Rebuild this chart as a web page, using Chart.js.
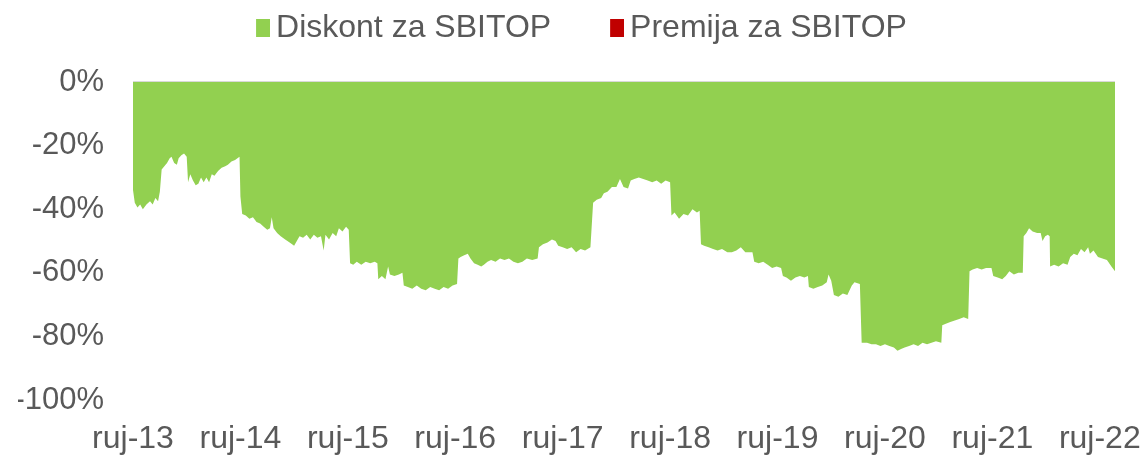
<!DOCTYPE html>
<html>
<head>
<meta charset="utf-8">
<script src="https://cdn.jsdelivr.net/npm/chart.js@4"></script>
<style>
  html, body { margin: 0; padding: 0; background: #ffffff; }
  #wrap { width: 1145px; height: 456px; }
</style>
</head>
<body>
<div id="wrap"><canvas id="c" width="1145" height="456"></canvas></div>
<script>
// x = months since September 2013 (ruj-13)
const months = [
  0, 0.2, 0.5, 0.8, 1.1, 1.5, 1.9, 2.2, 2.5, 2.8, 3.0, 3.2, 3.5, 3.8, 4.1, 4.3, 4.6, 4.9, 5.1, 5.4, 5.7, 6.0,
  6.15, 6.4, 6.7, 7.0, 7.3, 7.6, 7.9, 8.2, 8.5, 8.8, 9.1, 9.5, 9.9, 10.3, 10.6, 11.0, 11.4, 11.9,
  12.0, 12.2, 12.6, 13.0, 13.4, 13.8, 14.2, 14.6, 15.0, 15.3, 15.5, 15.7, 16.1, 16.5, 17.0, 17.5, 18.0,
  18.3, 18.6, 19.0, 19.4, 19.8, 20.2, 20.6, 21.0, 21.3, 21.5, 21.9, 22.3, 22.7, 23.0, 23.4, 23.8, 24.1,
  24.25, 24.6, 25.0, 25.5, 26.0, 26.5, 27.0, 27.3,
  27.4, 27.8, 28.2, 28.5, 28.7, 29.2, 29.7, 30.1,
  30.25, 30.7, 31.2, 31.7, 32.2, 32.7, 33.2, 33.7, 34.2, 34.7, 35.2, 35.7, 36.2,
  36.35, 36.6, 37.0, 37.4, 37.7, 38.1, 38.5, 38.9, 39.2, 39.6, 40.0, 40.5, 41.0, 41.5, 42.0, 42.5, 43.0, 43.5, 44.0, 44.6, 45.2,
  45.35, 45.8, 46.3, 46.8, 47.2, 47.5, 48.0, 48.5, 49.0, 49.5, 50.0, 50.5, 51.1,
  51.4, 51.8, 52.3, 52.6, 53.0, 53.5, 54.0, 54.4, 54.8, 55.3, 55.6, 56.0, 56.5, 57.0, 57.5, 58.0, 58.5, 59.0, 59.5, 60.0,
  60.15, 60.5, 61.0, 61.5, 62.0, 62.5, 63.0, 63.3,
  63.45, 63.8, 64.3, 64.8, 65.3, 65.8, 66.4, 66.9, 67.4, 67.9, 68.4, 69.2,
  69.4, 69.9, 70.4, 70.9, 71.4, 71.9, 72.4,
  72.6, 73.0, 73.5, 74.0, 74.5, 75.0, 75.4,
  75.5, 76.0, 76.5, 77.0, 77.5, 77.7, 78.0,
  78.3, 78.8, 79.3, 79.8, 80.3, 80.6, 81.2,
  81.4, 82.0, 82.5, 83.0, 83.5, 84.0, 84.5, 85.0, 85.4, 85.8, 86.2, 86.7, 87.2, 87.7, 88.2, 88.7, 89.2, 89.7, 90.3,
  90.4, 90.8, 91.3, 91.8, 92.3, 92.8, 93.3,
  93.45, 93.8, 94.3, 94.8, 95.3, 95.9, 96.1, 96.6, 97.1, 97.5, 97.9, 98.4, 98.9, 99.4,
  99.5, 99.8, 100.1, 100.5, 101.0, 101.4, 101.6, 101.9, 102.2, 102.4,
  102.45, 102.9, 103.4, 103.9, 104.4, 104.7, 105.1, 105.5, 105.9, 106.3, 106.7, 106.9, 107.3, 107.8, 108.3, 108.8, 109.3, 109.7
];
const discount = [
  -34, -38, -39.5, -38.5, -40, -38.5, -37.5, -38.5, -36.5, -37.5, -34.5, -27.5, -26.5, -25.5, -24, -23.5, -25.5, -26, -24, -23, -22.5, -23.5,
  -31.5, -29, -31, -32.5, -32, -30, -31.5, -30, -31.5, -29, -29.5, -28, -27, -26.5, -26, -25, -24.5, -23.5,
  -36, -41.5, -42, -43, -42.5, -44, -44.5, -45.5, -46.5, -46, -42.5, -46, -47.5, -48.5, -49.5, -50.5, -51.5,
  -50, -48.5, -49, -48, -49.5, -48, -49, -48.5, -53, -48, -49.5, -47.5, -48.5, -46, -47, -45.5, -46.5,
  -57, -57.5, -56.5, -57.5, -56.5, -57, -56.5, -57,
  -62, -61, -62, -58, -60.5, -61, -60.5, -60,
  -64, -64.5, -65, -64, -65, -65.5, -64.5, -65, -65.5, -64.5, -65, -64, -63.5,
  -55.5, -55, -54.5, -54, -55.5, -57, -57.5, -58, -57.5, -56.5, -56, -56.5, -55.5, -56, -55.5, -56.5, -57, -56.5, -55.5, -56, -55.5,
  -52, -51, -50.5, -49.5, -50, -51.5, -52, -52.5, -52, -53.5, -52.5, -53, -52,
  -38, -37, -36.5, -35, -34.5, -33, -33, -30.5, -33, -33.5, -31, -30.5, -30, -30.5, -31, -31.5, -31, -32, -31, -31.5,
  -42, -41, -43, -41.5, -42, -40, -41, -40.5,
  -51, -51.5, -52, -52.5, -53, -52.5, -53.5, -53.5, -53, -52, -53.5, -53.5,
  -56.5, -57, -56.5, -57.5, -58.5, -58, -58.5,
  -61, -61.5, -62.5, -61.5, -61, -61.5, -61,
  -64.5, -65, -64.5, -64, -63, -60.5, -62.5,
  -67, -67.5, -66.5, -67, -64, -63, -63.5,
  -82, -82, -82.5, -82.5, -83, -82.5, -83, -83.5, -84.5, -84, -83.5, -83, -82.5, -83, -82, -82.5, -82, -81.5, -82,
  -76.5, -76, -75.5, -75, -74.5, -74, -74.5,
  -59.5, -59, -58.5, -59, -58.5, -58.5, -61, -61.5, -62, -61, -59.5, -60.5, -60, -60,
  -48.5, -47.5, -46, -47, -47.5, -47.5, -50, -48.5, -48, -48.5,
  -58, -57.5, -58, -57, -57.5, -55, -54, -54.5, -52.5, -53.5, -52, -54, -53, -55, -55.5, -56, -58, -59.5
];
const premium = []; // no premium periods in the shown window
const xTickMonths = [0, 12, 24, 36, 48, 60, 72, 84, 96, 108];
const xTickLabels = ['ruj-13', 'ruj-14', 'ruj-15', 'ruj-16', 'ruj-17', 'ruj-18', 'ruj-19', 'ruj-20', 'ruj-21', 'ruj-22'];
const yTicks = [0, -20, -40, -60, -80, -100];

const txt = '#595959';
const fontFam = '"Liberation Sans", Arial, sans-serif';
const GREEN = '#92d050';
const RED = '#c00000';

const LEGEND_FONT = 32;
const LEGEND_PAD = 59;
const LEGEND_HEIGHT = 82;
const LEGEND_SHIFT_UP = 47;

// legend marker image: a 14x18 square placed at the right of a 24px wide image
function markerImage(color) {
  const cv = document.createElement('canvas');
  cv.width = 24; cv.height = 18;
  const g = cv.getContext('2d');
  g.fillStyle = color;
  g.fillRect(10, 0, 14, 18);
  return cv;
}

// Fix legend box height and vertical placement, keeping its item spacing
const legendTweak = {
  id: 'legendTweak',
  beforeLayout(chart) {
    const lg = chart.legend;
    if (!lg || lg._tweaked) return;
    lg._tweaked = true;
    const fit = lg.fit;
    lg.fit = function () { fit.call(this); this.height = LEGEND_HEIGHT; };
    const draw = lg.draw;
    lg.draw = function () {
      const t = this.top;
      this.top = t - LEGEND_SHIFT_UP;
      draw.apply(this, arguments);
      this.top = t;
    };
  }
};

new Chart(document.getElementById('c'), {
  type: 'line',
  data: {
    datasets: [
      {
        label: 'Diskont za SBITOP',
        data: months.map((m, i) => ({ x: m, y: discount[i] })),
        backgroundColor: GREEN,
        borderColor: GREEN,
        borderWidth: 0,
        pointRadius: 0,
        fill: 'origin',
        tension: 0
      },
      {
        label: 'Premija za SBITOP',
        data: premium,
        backgroundColor: RED,
        borderColor: RED,
        borderWidth: 0,
        pointRadius: 0,
        fill: 'origin'
      }
    ]
  },
  plugins: [legendTweak],
  options: {
    responsive: false,
    animation: false,
    events: [],
    layout: { padding: { left: 18, right: 0, top: 0, bottom: 0 } },
    plugins: {
      legend: {
        position: 'top',
        labels: {
          color: txt,
          font: { family: fontFam, size: LEGEND_FONT },
          usePointStyle: true,
          pointStyleWidth: 4,
          boxHeight: 18,
          padding: LEGEND_PAD,
          generateLabels: (chart) => {
            const items = Chart.defaults.plugins.legend.labels.generateLabels(chart);
            const cols = [GREEN, RED];
            return items.map((it, i) => Object.assign(it, { pointStyle: markerImage(cols[i]) }));
          }
        }
      },
      tooltip: { enabled: false }
    },
    scales: {
      x: {
        type: 'linear',
        min: 0,
        max: 109.7,
        afterBuildTicks: (s) => { s.ticks = xTickMonths.map(v => ({ value: v })); },
        afterFit: (s) => { s.height = 56; s.paddingRight = 30; s.paddingLeft = 0; },
        grid: { display: false, drawTicks: false },
        border: { display: false },
        ticks: {
          autoSkip: false,
          maxRotation: 0,
          padding: 20,
          color: txt,
          font: { family: fontFam, size: 32 },
          callback: (v) => { const i = xTickMonths.indexOf(v); return i >= 0 ? xTickLabels[i] : ''; }
        }
      },
      y: {
        min: -100,
        max: 0,
        afterBuildTicks: (s) => { s.ticks = yTicks.map(v => ({ value: v })); },
        afterFit: (s) => { s.width = 115; },
        grid: {
          drawTicks: false,
          color: (ctx) => ctx.tick && ctx.tick.value === 0 ? '#d9d9d9' : 'rgba(0,0,0,0)',
          lineWidth: 2
        },
        border: { display: false },
        ticks: {
          padding: 29,
          color: txt,
          font: { family: fontFam, size: 31 },
          callback: (v) => v + '%'
        }
      }
    }
  }
});
</script>
</body>
</html>
